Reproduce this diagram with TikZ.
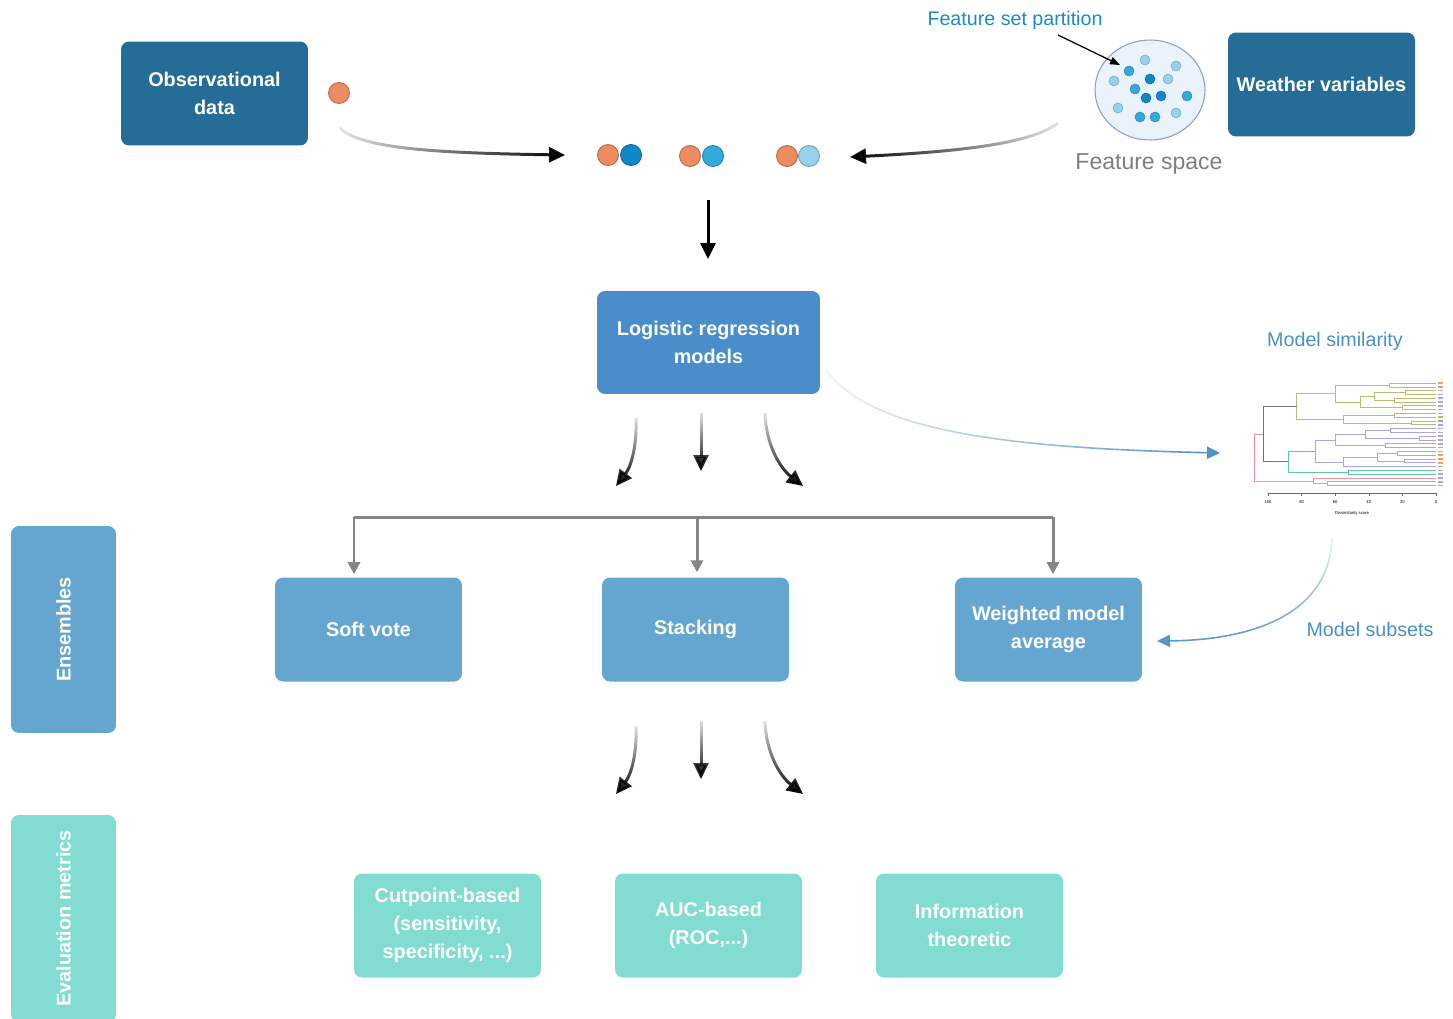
\documentclass[tikz,border=0pt]{standalone}
\usepackage{fontspec}
\setmainfont{Liberation Sans}
\usetikzlibrary{arrows.meta,fadings}

\definecolor{obsblue}{HTML}{256C96}
\definecolor{logblue}{HTML}{4A8DCB}
\definecolor{ensblue}{HTML}{65A6D1}
\definecolor{evalteal}{HTML}{82DCD2}
\definecolor{partblue}{HTML}{1B8BC6}
\definecolor{simblue}{HTML}{4A90C8}
\definecolor{spacegray}{HTML}{7F7F7F}
\definecolor{bracketgray}{HTML}{858585}
\definecolor{ballorange}{HTML}{EC8C60}
\definecolor{balldark}{HTML}{1088C8}
\definecolor{ballmid}{HTML}{32AADC}
\definecolor{balllight}{HTML}{96D2EB}
\definecolor{spacefill}{HTML}{EAF2FB}
\definecolor{spaceedge}{HTML}{8C9AD6}
\definecolor{dendolive}{HTML}{B9BC72}
\definecolor{dendpurple}{HTML}{ADA4E6}
\definecolor{dendteal}{HTML}{5CC6A6}
\definecolor{dendpink}{HTML}{EA94A6}
\definecolor{dendorange}{HTML}{F0A060}

\tikzfading[name=fromleft, left color=transparent!90, right color=transparent!0]
\tikzfading[name=fromright, left color=transparent!0, right color=transparent!90]
\tikzfading[name=fromtop, top color=transparent!90, bottom color=transparent!0]

% one U-shaped link of the tree: colour, height, two rows, two child heights
\newcommand{\dendlink}[6]{\draw[#1] (#5,#3) -- (#2,#3) -- (#2,#4) -- (#6,#4);}

\begin{document}
\begin{tikzpicture}[x=0.02cm, y=-0.02cm,
    box/.style={rectangle, rounded corners=0.16cm, minimum width=3.74cm, minimum height=2.08cm,
      fill=#1, text=white, align=center, font=\bfseries\fontsize{11.3}{15.9}\selectfont},
    sidebox/.style={box=#1, rotate=90, minimum width=4.14cm, minimum height=2.1cm},
    orb/.style={circle, inner sep=0pt, minimum size=0.42cm, fill=#1, draw=#1!75!black, line width=0.5pt},
    dot/.style={circle, inner sep=0pt, minimum size=0.2cm, fill=#1, draw=#1!80!black, line width=0.3pt},
    flow/.style={line width=1.7pt, -{Triangle[length=0.32cm, width=0.3cm]}},
    bracket/.style={line width=1.7pt, draw=bracketgray},
    drop/.style={bracket, -{Triangle[length=0.24cm, width=0.24cm]}},
    simflow/.style={line width=0.9pt, draw=simblue, -{Triangle[length=0.26cm, width=0.24cm]}},
    note/.style={font=\fontsize{11.2}{13}\selectfont}]
  \useasboundingbox (0,0) rectangle (1453,1018);
  \clip (0,0) rectangle (1453,1018);

  % inputs
  \node[box=obsblue] (obs) at (214.5,93.5) {Observational\\data};
  \node[box=obsblue] (weather) at (1321.5,84.5) {Weather variables};
  \node[orb=ballorange] (obsball) at (339,93) {};

  % feature space
  \draw[fill=spacefill, draw=spaceedge, line width=0.6pt] (1150,90) ellipse (1.1cm and 1cm);
  \foreach \px/\py/\c in {1145/60/balllight, 1176/66/balllight, 1129/71/ballmid, 1150/79/balldark,
      1168/79/balllight, 1114/81/balllight, 1135/89/ballmid, 1146/98/balldark, 1161/96/balldark,
      1187/96/ballmid, 1118/108/balllight, 1140/117/ballmid, 1155/117/ballmid, 1176/113/balllight}
    \node[dot=\c] at (\px,\py) {};
  \node[note, text=partblue] (partlabel) at (1015,20) {Feature set partition};
  \node[font=\fontsize{13.1}{15}\selectfont, text=spacegray] (spacelabel) at (1149,164) {Feature space};
  \coordinate (parttail) at (1058,35);
  \coordinate (parthead) at (1120,65);
  \draw[-{Triangle[length=0.2cm, width=0.15cm]}, line width=0.7pt] (parttail) -- (parthead);

  % combined pairs
  \node[orb=ballorange] (pairA1) at (608,155) {};
  \node[orb=balldark] (pairA2) at (631,155) {};
  \node[orb=ballorange] (pairB1) at (690,156) {};
  \node[orb=ballmid] (pairB2) at (713,156) {};
  \node[orb=ballorange] (pairC1) at (787,156) {};
  \node[orb=balllight] (pairC2) at (809,156) {};

  \coordinate (obsfrom) at (340,128);
  \coordinate (obsto) at (565,155);
  \coordinate (wxfrom) at (1058,123);
  \coordinate (wxto) at (850,157);
  \draw[flow, path fading=fromleft] (565,168) (obsfrom) .. controls (360,148) and (430,153) .. (obsto);
  \draw[flow, path fading=fromright] (850,170) (wxfrom) .. controls (1030,145) and (950,152) .. (wxto);

  % models
  \node[box=logblue, minimum width=4.46cm, minimum height=2.06cm] (logreg) at (708.5,342.5) {Logistic regression\\models};
  \coordinate (pairsout) at (708,200);
  \coordinate (pairsin) at (708,259);
  \draw[flow] (pairsout) -- (pairsin);

  \draw[flow, path fading=fromtop] (636,418) .. controls (637,450) and (630,468) .. (616,486);
  \draw[flow, path fading=fromtop] (692,413) (710,413) (701,413) -- (701,471);
  \draw[flow, path fading=fromtop] (765,413) .. controls (766,445) and (780,468) .. (803,486);

  % ensembles
  \node[box=ensblue] (soft) at (368.5,629.5) {Soft vote};
  \node[box=ensblue] (stack) at (695.5,629.5) {Stacking};
  \node[box=ensblue] (wma) at (1048.5,629.5) {Weighted model\\average};
  \coordinate (brL) at (354,517);
  \coordinate (brM) at (697,517);
  \coordinate (brR) at (1053,517);
  \draw[bracket] (brL) -- (brR);
  \draw[drop] (brL) -- ([yshift=1.7pt]brL |- soft.north);
  \draw[drop] (brM) -- ([yshift=2.8pt]brM |- stack.north);
  \draw[drop] (brR) -- ([yshift=1.7pt]brR |- wma.north);

  \draw[flow, path fading=fromtop] (636,726) .. controls (637,758) and (630,776) .. (616,794);
  \draw[flow, path fading=fromtop] (692,721) (710,721) (701,721) -- (701,779);
  \draw[flow, path fading=fromtop] (765,721) .. controls (766,753) and (780,776) .. (803,794);

  % evaluation
  \node[box=evalteal] (cut) at (447.5,925.5) {Cutpoint-based\\(sensitivity,\\specificity, ...)};
  \node[box=evalteal] (auc) at (708.5,925.5) {AUC-based\\(ROC,...)};
  \node[box=evalteal] (info) at (969.5,925.5) {Information\\theoretic};

  % side labels
  \node[sidebox=ensblue] (enslabel) at (63.5,629.5) {Ensembles};
  \node[sidebox=evalteal] (evallabel) at (63.5,918.5) {Evaluation metrics};

  % model similarity
  \node[note, text=simblue] (simlabel) at (1335,341) {Model similarity};
  \node[note, text=simblue] (subsetlabel) at (1370,629) {Model subsets};
  \coordinate (simfrom) at (826,370);
  \coordinate (simto) at (1220,453);
  \coordinate (subfrom) at (1332,538);
  \coordinate (subto) at (1157,641);
  \draw[simflow, path fading=fromleft] (1220,462) (simfrom) .. controls (870,430) and (1000,448) .. (simto);
  \draw[simflow, path fading=fromtop] (1157,650) (subfrom) .. controls (1330,610) and (1260,640) .. (subto);

  % dendrogram
  \begin{scope}[shift={(1436,383)}, x=-0.0336cm, y=-0.076cm, line width=0.35pt]
    \dendlink{dendolive}{28}{0}{1}{0}{0}
    \dendlink{dendolive}{18}{2}{3}{0}{0}
    \dendlink{dendolive}{25}{4}{5}{0}{0}
    \dendlink{dendolive}{37}{2.5}{4.5}{18}{25}
    \dendlink{dendolive}{20}{6}{7}{0}{0}
    \dendlink{dendolive}{45}{3.5}{6.5}{37}{20}
    \dendlink{dendolive}{60}{0.5}{5}{28}{45}
    \dendlink{dendolive}{25}{8}{9}{0}{0}
    \dendlink{dendolive}{15}{10}{11}{0}{0}
    \dendlink{dendolive}{55}{8.5}{10.5}{25}{15}
    \dendlink{dendolive}{83}{2.75}{9.5}{60}{55}
    \dendlink{dendpurple}{27}{12}{13}{0}{0}
    \dendlink{dendpurple}{10}{14}{15}{0}{0}
    \dendlink{dendpurple}{42}{12.5}{14.5}{27}{10}
    \dendlink{dendpurple}{30}{16}{17}{0}{0}
    \dendlink{dendpurple}{60}{13.5}{16.5}{42}{30}
    \dendlink{dendpurple}{23}{18}{19}{0}{0}
    \dendlink{dendpurple}{19}{20}{21}{0}{0}
    \dendlink{dendpurple}{35}{18.5}{20.5}{23}{19}
    \dendlink{dendpurple}{55}{19.5}{22}{35}{0}
    \dendlink{dendpurple}{72}{15}{20.75}{60}{55}
    \dendlink{dendteal}{52}{23}{24}{0}{0}
    \dendlink{dendteal}{88}{17.875}{23.5}{72}{52}
    \dendlink{black!55}{103}{6.125}{20.69}{83}{88}
    \dendlink{dendpink}{65}{26}{27}{0}{0}
    \dendlink{dendpink}{73}{25}{26.5}{0}{65}
    \dendlink{dendpink}{108}{13.41}{25.75}{103}{73}
    \foreach \leaf/\c in {0/dendorange, 1/dendorange, 2/dendpurple, 3/dendpurple, 4/dendpurple,
        5/dendpurple, 6/dendpurple, 7/dendpurple, 8/dendorange, 9/dendorange, 10/dendteal,
        11/dendpurple, 12/dendpurple, 13/dendpurple, 14/dendpurple, 15/dendpurple, 16/dendpurple,
        17/dendpurple, 18/dendorange, 19/dendorange, 20/dendorange, 21/dendorange, 22/dendorange,
        23/dendpurple, 24/dendpurple, 25/dendpurple, 26/dendpurple, 27/dendpurple}
      \draw[\c, line width=1pt] (-1,\leaf) -- (-4,\leaf);
    \draw[black!60, line width=0.3pt] (100,28.9) -- (0,28.9);
    \foreach \d in {0,20,...,100} {
      \draw[black!60, line width=0.3pt] (\d,28.9) -- (\d,29.7);
      \node[font=\fontsize{2.4}{3}\selectfont] at (\d,31.4) {\d};
    }
    \node[font=\fontsize{2.4}{3}\selectfont] at (50,34.3) {Dissimilarity score};
  \end{scope}
\end{tikzpicture}
\end{document}
